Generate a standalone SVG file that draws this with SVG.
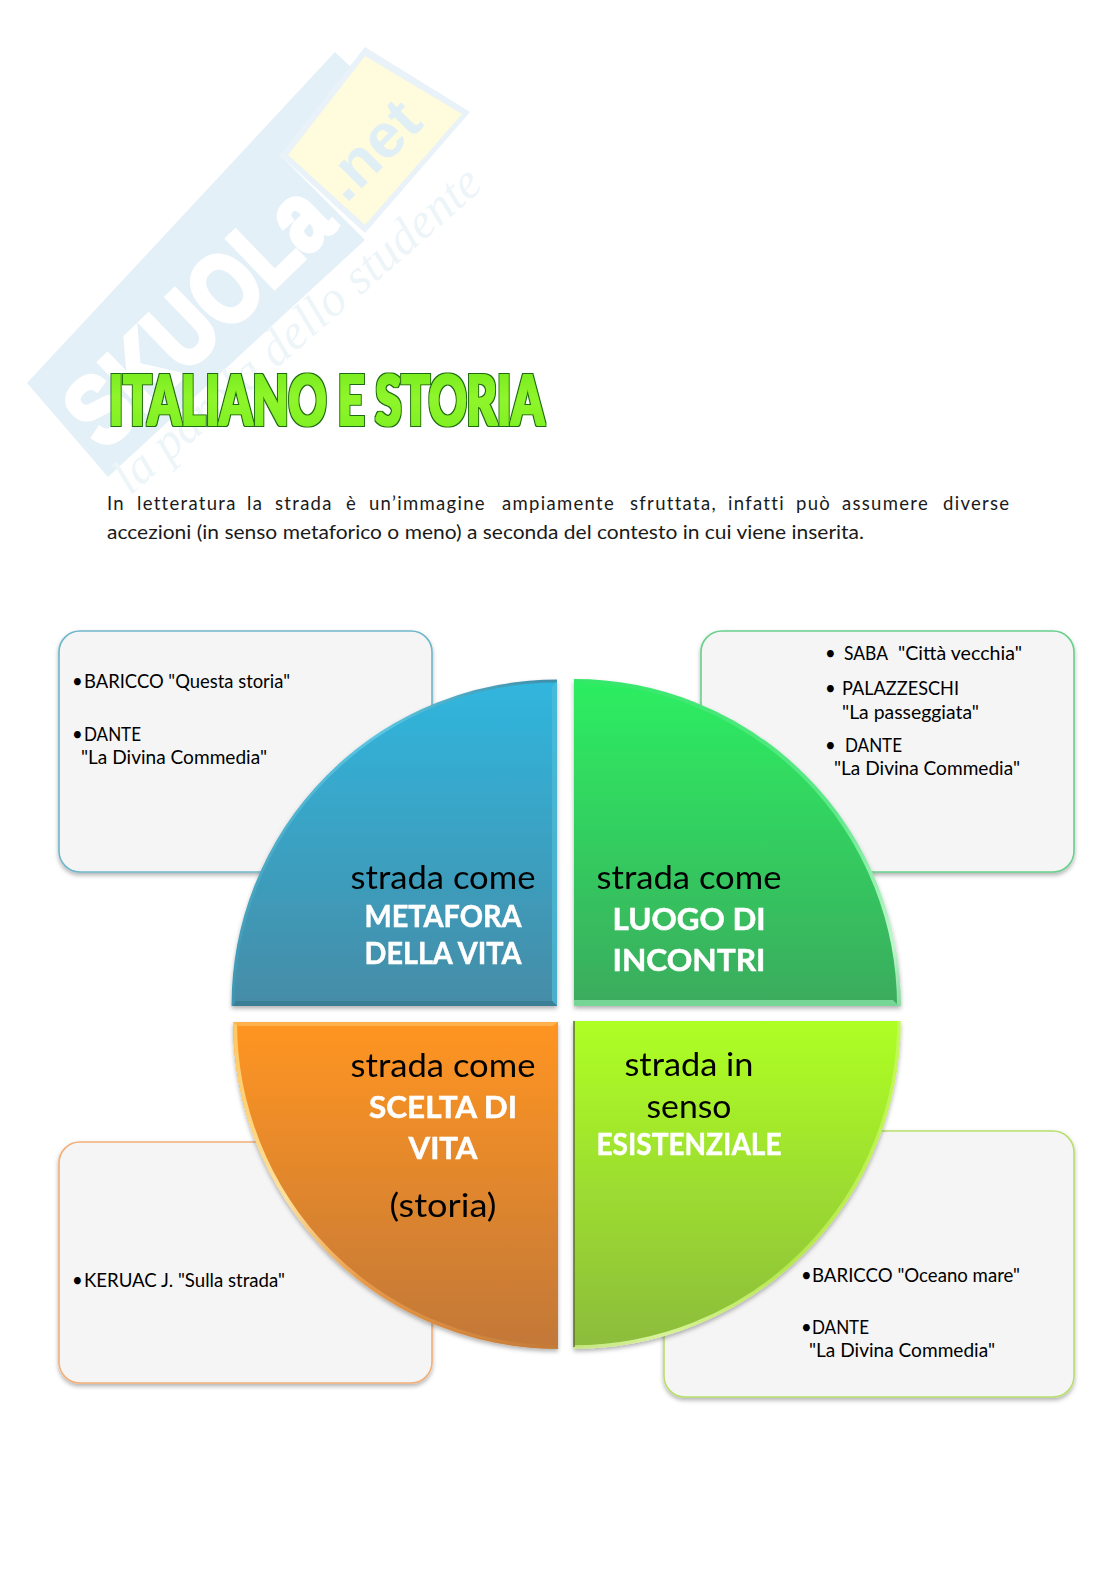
<svg xmlns="http://www.w3.org/2000/svg" width="1116" height="1579" viewBox="0 0 1116 1579">
<style>
text{font-family:"Lato","Carlito","Liberation Sans",sans-serif;fill:#000}
.s{font-size:18.5px}
.p{font-size:18.5px;fill:#1a1a1a}
.l{font-size:32px;text-anchor:middle;fill:#050505}
.w{font-size:31px;font-weight:700;text-anchor:middle;fill:#fff;stroke:#fff;stroke-width:.5}
.box{fill:#f5f5f5;stroke-width:1.6;filter:url(#sh)}
.q{filter:url(#sh)}
</style>
<defs>
<filter id="sh" x="-5%" y="-5%" width="110%" height="110%"><feDropShadow dx="0" dy="2.5" stdDeviation="2" flood-color="#000" flood-opacity=".3"/></filter>
<filter id="tf" x="-3%" y="-10%" width="106%" height="120%">
<feMorphology in="SourceGraphic" operator="dilate" radius="1.1" result="fat"/>
<feMorphology in="SourceAlpha" operator="dilate" radius="2.2" result="outer"/>
<feFlood flood-color="#1c6a12"/><feComposite in2="outer" operator="in" result="edge"/>
<feMerge><feMergeNode in="edge"/><feMergeNode in="fat"/></feMerge>
</filter>
<linearGradient id="gb" x1="0" y1="0" x2="0" y2="1"><stop offset="0" stop-color="#30b6de"/><stop offset="1" stop-color="#468ca6"/></linearGradient>
<linearGradient id="gg" x1="0" y1="0" x2="0" y2="1"><stop offset="0" stop-color="#2cee62"/><stop offset="1" stop-color="#3bab5d"/></linearGradient>
<linearGradient id="go" x1="0" y1="0" x2="0" y2="1"><stop offset="0" stop-color="#ff9522"/><stop offset="1" stop-color="#c27838"/></linearGradient>
<linearGradient id="gl" x1="0" y1="0" x2="0" y2="1"><stop offset="0" stop-color="#aeff24"/><stop offset="1" stop-color="#8cbc3c"/></linearGradient>
<linearGradient id="gt" x1="0" y1="0" x2="0" y2="1"><stop offset="0" stop-color="#6fe81c"/><stop offset=".5" stop-color="#8ef52a"/><stop offset="1" stop-color="#7aee20"/></linearGradient>
<linearGradient id="hb" gradientUnits="userSpaceOnUse" x1="233" y1="1005" x2="557" y2="681"><stop offset="0" stop-color="#3f95b2"/><stop offset=".65" stop-color="#5cc6e2"/><stop offset="1" stop-color="#3f8ea8"/></linearGradient>
<linearGradient id="hg" gradientUnits="userSpaceOnUse" x1="574" y1="681" x2="899" y2="1005"><stop offset="0" stop-color="#32e868"/><stop offset=".6" stop-color="#5fe88a"/><stop offset=".9" stop-color="#c4f4cf"/><stop offset="1" stop-color="#8cdca4"/></linearGradient>
<linearGradient id="ho" gradientUnits="userSpaceOnUse" x1="233" y1="1022" x2="557" y2="1347"><stop offset="0" stop-color="#ffc860"/><stop offset=".35" stop-color="#ffe09a"/><stop offset=".6" stop-color="#e89a4a"/><stop offset="1" stop-color="#c47a38"/></linearGradient>
<linearGradient id="hl" gradientUnits="userSpaceOnUse" x1="899" y1="1022" x2="574" y2="1347"><stop offset="0" stop-color="#c4f85c"/><stop offset=".55" stop-color="#b6e84e"/><stop offset=".85" stop-color="#d8f29a"/><stop offset="1" stop-color="#c6e680"/></linearGradient>
</defs>

<g id="watermark">
<polygon points="27,383 335,52 356,72 280,155 365,240 108,477" fill="#e4f0f7"/>
<polygon points="365,47 470,112 365,233 280,155" fill="#e8f2f8"/>
<polygon points="365,56 462,114 365,225 288,155" fill="#fefcdc"/>
<text transform="translate(104,452) rotate(-44)" font-size="98" textLength="325" lengthAdjust="spacingAndGlyphs" stroke="#fff" stroke-width="5" style="font-family:'Liberation Sans',sans-serif;font-weight:700;fill:#fff">SKUOLa</text>
<text transform="translate(346,204) rotate(-45)" font-size="62" textLength="112" lengthAdjust="spacingAndGlyphs" style="font-family:'Liberation Sans',sans-serif;font-weight:700;fill:#e0eef6">.net</text>
<text transform="translate(130,496) rotate(-41)" font-size="50" textLength="470" lengthAdjust="spacingAndGlyphs" style="font-family:'Liberation Serif',serif;font-style:italic;fill:#edf5f9">la parola dello studente</text>
</g>

<g id="title">
<text x="109" y="425" font-size="68" textLength="435" lengthAdjust="spacingAndGlyphs" filter="url(#tf)" style="font-family:'Lato','Liberation Sans',sans-serif;font-weight:900;fill:url(#gt)">ITALIANO E STORIA</text>
</g>

<g id="paragraph">
<text class="p" y="510" letter-spacing="1.3"><tspan x="107">In</tspan><tspan x="137">letteratura</tspan><tspan x="247">la</tspan><tspan x="275">strada</tspan><tspan x="346">è</tspan><tspan x="369">un’immagine</tspan><tspan x="502">ampiamente</tspan><tspan x="630">sfruttata,</tspan><tspan x="728">infatti</tspan><tspan x="796">può</tspan><tspan x="842">assumere</tspan><tspan x="943">diverse</tspan></text>
<text class="p" x="107" y="539" textLength="757" lengthAdjust="spacingAndGlyphs">accezioni (in senso metaforico o meno) a seconda del contesto in cui viene inserita.</text>
</g>

<g id="box-tl">
<rect class="box" x="59" y="631" width="373" height="241" rx="21" stroke="#6fb6ca"/>
<text class="s" x="72" y="688">•</text><text class="s" x="84" y="688" textLength="206" lengthAdjust="spacingAndGlyphs">BARICCO "Questa storia"</text>
<text class="s" x="72" y="741">•</text><text class="s" x="84" y="741" textLength="57" lengthAdjust="spacingAndGlyphs">DANTE</text>
<text class="s" x="81" y="764" textLength="186" lengthAdjust="spacingAndGlyphs">"La Divina Commedia"</text>
</g>
<g id="box-tr">
<rect class="box" x="701" y="631" width="373" height="241" rx="21" stroke="#68d08c"/>
<text class="s" x="825" y="660">•</text><text class="s" x="844" y="660" textLength="44" lengthAdjust="spacingAndGlyphs">SABA</text><text class="s" x="898" y="660" textLength="124" lengthAdjust="spacingAndGlyphs">"Città vecchia"</text>
<text class="s" x="825" y="695">•</text><text class="s" x="842" y="695" textLength="117" lengthAdjust="spacingAndGlyphs">PALAZZESCHI</text>
<text class="s" x="842" y="719" textLength="137" lengthAdjust="spacingAndGlyphs">"La passeggiata"</text>
<text class="s" x="825" y="752">•</text><text class="s" x="845" y="752" textLength="57" lengthAdjust="spacingAndGlyphs">DANTE</text>
<text class="s" x="834" y="775" textLength="186" lengthAdjust="spacingAndGlyphs">"La Divina Commedia"</text>
</g>
<g id="box-bl">
<rect class="box" x="59" y="1142" width="373" height="241" rx="21" stroke="#f2b078"/>
<text class="s" x="72" y="1287">•</text><text class="s" x="84" y="1287" textLength="201" lengthAdjust="spacingAndGlyphs">KERUAC J. "Sulla strada"</text>
</g>
<g id="box-br">
<rect class="box" x="664" y="1131" width="410" height="266" rx="21" stroke="#b8de6c"/>
<text class="s" x="801" y="1282">•</text><text class="s" x="812" y="1282" textLength="208" lengthAdjust="spacingAndGlyphs">BARICCO "Oceano mare"</text>
<text class="s" x="801" y="1334">•</text><text class="s" x="812" y="1334" textLength="57" lengthAdjust="spacingAndGlyphs">DANTE</text>
<text class="s" x="809" y="1357" textLength="186" lengthAdjust="spacingAndGlyphs">"La Divina Commedia"</text>
</g>

<g id="q-blue" class="q">
<path d="M233 1006A324 325 0 0 1 557 681V1006Z" fill="url(#gb)"/>
<path d="M233 1006A324 325 0 0 1 557 681" fill="none" stroke="url(#hb)" stroke-width="3"/>
<path d="M557 681V1006L552 1001V687Z" fill="#4fbcd8" fill-opacity=".7"/>
<path d="M233 1006H557L552 1001H236Z" fill="#3a7f97"/>
<text class="l" x="443" y="889" textLength="185" lengthAdjust="spacingAndGlyphs">strada come</text>
<text class="w" x="443" y="927" textLength="157" lengthAdjust="spacingAndGlyphs">METAFORA</text>
<text class="w" x="443" y="964" textLength="157" lengthAdjust="spacingAndGlyphs">DELLA VITA</text>
</g>
<g id="q-green" class="q">
<path d="M574 681A325 325 0 0 1 899 1006H574Z" fill="url(#gg)"/>
<path d="M574 681A325 325 0 0 1 899 1006" fill="none" stroke="url(#hg)" stroke-width="4"/>
<path d="M574 1006H899L893 1000H574Z" fill="#74d696"/>
<text class="l" x="689" y="889" textLength="185" lengthAdjust="spacingAndGlyphs">strada come</text>
<text class="w" x="689" y="930" textLength="153" lengthAdjust="spacingAndGlyphs">LUOGO DI</text>
<text class="w" x="689" y="971" textLength="153" lengthAdjust="spacingAndGlyphs">INCONTRI</text>
</g>
<g id="q-orange" class="q">
<path d="M233 1022H558V1347A325 325 0 0 1 233 1022Z" fill="url(#go)"/>
<path d="M235 1022A323 325 0 0 0 558 1347" fill="none" stroke="url(#ho)" stroke-width="4"/>
<path d="M233 1022H558L553 1026H238Z" fill="#ffb14c"/>
<text class="l" x="443" y="1077" textLength="185" lengthAdjust="spacingAndGlyphs">strada come</text>
<text class="w" x="443" y="1118" textLength="148" lengthAdjust="spacingAndGlyphs">SCELTA DI</text>
<text class="w" x="443" y="1159" textLength="69" lengthAdjust="spacingAndGlyphs">VITA</text>
<text class="l" x="443" y="1217" textLength="107" lengthAdjust="spacingAndGlyphs">(storia)</text>
</g>
<g id="q-lime" class="q">
<path d="M574 1021H899A325 326 0 0 1 574 1347Z" fill="url(#gl)"/>
<path d="M899 1021A325 326 0 0 1 574 1347" fill="none" stroke="url(#hl)" stroke-width="3.5"/>
<path d="M574 1021V1347" stroke="#5c6e34" stroke-width="1.5"/>
<text class="l" x="689" y="1076" textLength="129" lengthAdjust="spacingAndGlyphs">strada in</text>
<text class="l" x="689" y="1118" textLength="85" lengthAdjust="spacingAndGlyphs">senso</text>
<text class="w" x="689" y="1155" textLength="185" lengthAdjust="spacingAndGlyphs">ESISTENZIALE</text>
</g>
</svg>
